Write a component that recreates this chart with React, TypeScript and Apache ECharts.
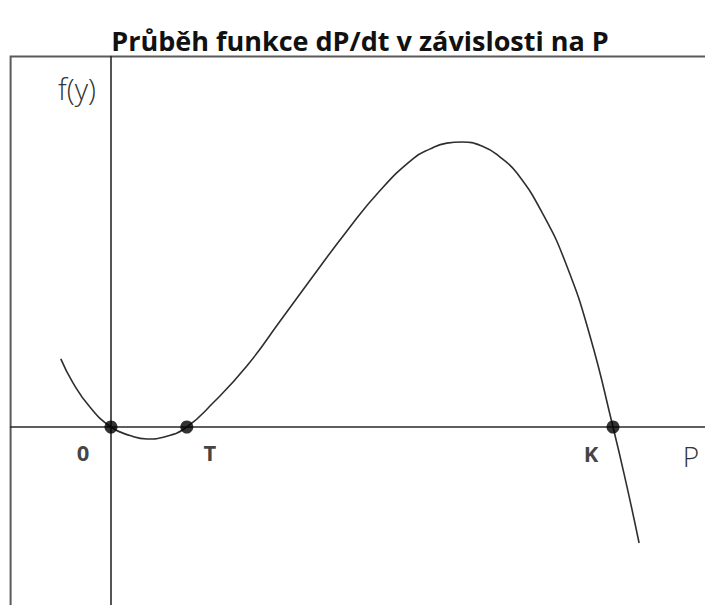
import React, { useEffect, useRef } from "react";
import * as echarts from "echarts";

// Population P (horizontal) and growth rate dP/dt (vertical), sampled along the curve
const curveP = [-1.0, -0.76, -0.42, 0, 0.38, 0.72, 1.08, 1.51, 2.03, 2.71, 3.37, 4.02, 4.7, 5.36, 6.02, 6.35, 6.69, 6.99, 7.41, 7.75, 8.09, 8.61, 9.08, 9.54, 10.0, 10.26, 10.52];
const curveF = [2.39, 1.56, 0.7, 0, -0.3, -0.42, -0.34, 0, 0.84, 2.15, 3.72, 5.28, 6.88, 8.3, 9.42, 9.75, 9.96, 10.0, 9.84, 9.47, 8.9, 7.45, 5.65, 3.2, 0, -1.95, -4.07];

// Equilibria (zeros of dP/dt)
const rootNames = ["0", "T", "K"];
const rootP = [0, 1.51, 10.0];
const rootF = [0, 0, 0];
const rootLabelOffsets: [number, number][] = [[-28, 25], [23, 25], [-22, 26]];

const titleText = "Průběh funkce dP/dt v závislosti na P";
const yAxisTitle = "f(y)";
const xAxisTitle = "P";

export default function App() {
  const ref = useRef<HTMLDivElement>(null);

  useEffect(() => {
    if (!ref.current) return;
    const chart = echarts.init(ref.current, undefined, { renderer: "svg" });

    const curve = curveP.map((p, i) => [p, curveF[i]]);
    const roots = rootP.map((p, i) => ({
      value: [p, rootF[i]],
      name: rootNames[i],
      label: { offset: rootLabelOffsets[i] },
    }));

    chart.setOption({
      animation: false,
      backgroundColor: "#ffffff",
      grid: {
        left: 10.6,
        top: 56.5,
        width: 702.8,
        height: 570,
        outerBoundsMode: "none",
        containLabel: false,
        show: true,
        borderColor: "#5a5a5a",
        borderWidth: 2,
        backgroundColor: "transparent",
      },
      xAxis: {
        type: "value",
        min: -2,
        max: 12,
        axisLine: { onZero: true, lineStyle: { color: "#2a2a2a", width: 1.6 } },
        axisTick: { show: false },
        axisLabel: { show: false },
        splitLine: { show: false },
      },
      yAxis: {
        type: "value",
        min: -7,
        max: 13,
        axisLine: { onZero: true, lineStyle: { color: "#2a2a2a", width: 1.6 } },
        axisTick: { show: false },
        axisLabel: { show: false },
        splitLine: { show: false },
      },
      series: [
        {
          type: "line",
          data: curve,
          smooth: 0.5,
          showSymbol: false,
          lineStyle: { color: "#2e2e2e", width: 1.6 },
          z: 3,
        },
        {
          type: "scatter",
          data: roots,
          symbol: "circle",
          symbolSize: 13,
          itemStyle: { color: "#000000" },
          label: {
            show: true,
            position: "inside",
            formatter: (p: any) => p.name,
            color: "#111111",
            fontFamily: "Open Sans",
            fontWeight: "bold",
            fontSize: 22,
          },
          z: 5,
        },
      ],
      graphic: [
        {
          type: "text",
          x: 360,
          y: 40,
          style: {
            text: titleText,
            fill: "#111111",
            font: "bold 27px 'Open Sans'",
            textAlign: "center",
            textVerticalAlign: "middle",
          },
        },
        {
          type: "text",
          x: 77,
          y: 88,
          style: {
            text: yAxisTitle,
            fill: "#333333",
            font: "300 29px 'Open Sans'",
            textAlign: "center",
            textVerticalAlign: "middle",
          },
        },
        {
          type: "text",
          x: 691,
          y: 456,
          style: {
            text: xAxisTitle,
            fill: "#333333",
            font: "300 28px 'Open Sans'",
            textAlign: "center",
            textVerticalAlign: "middle",
          },
        },
      ],
    });

    return () => chart.dispose();
  }, []);

  return (
    <div
      ref={ref}
      style={{ position: "fixed", left: 0, top: 0, width: 705, height: 605 }}
    />
  );
}
